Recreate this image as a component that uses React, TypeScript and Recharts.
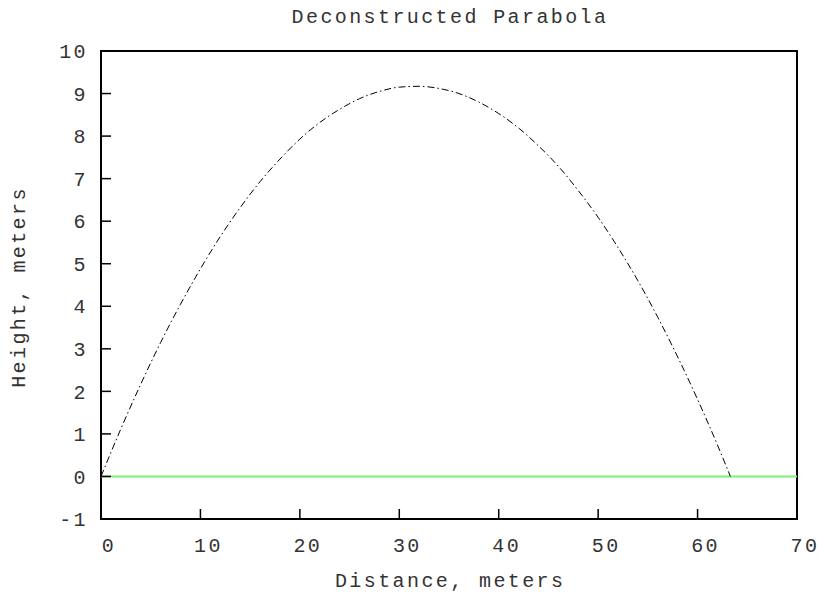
import React from 'react';
import { LineChart, Line, XAxis, YAxis, ReferenceArea, Label } from 'recharts';

const distances = [0, 2, 4, 6, 8, 10, 12, 14, 16, 18, 20, 22, 24, 26, 28, 30, 32, 34, 36, 38, 40, 42, 44, 46, 48, 50, 52, 54, 56, 58, 60, 62, 63.3];
const heights = [0, 1.12, 2.17, 3.15, 4.05, 4.88, 5.64, 6.32, 6.93, 7.46, 7.93, 8.32, 8.63, 8.88, 9.05, 9.15, 9.17, 9.12, 9.0, 8.8, 8.53, 8.19, 7.77, 7.29, 6.72, 6.09, 5.38, 4.6, 3.74, 2.81, 1.81, 0.74, 0];
const groundX = [0, 70];
const groundY = [0, 0];
const xTicks = [0, 10, 20, 30, 40, 50, 60, 70];
const yTicks = [-1, 0, 1, 2, 3, 4, 5, 6, 7, 8, 9, 10];

const parabola = distances.map((d, i) => ({ x: d, y: heights[i] }));
const ground = groundX.map((d, i) => ({ x: d, y: groundY[i] }));

const FONT = '"Liberation Mono", "DejaVu Sans Mono", monospace';
const FS = 20;
const LS = 2.4;
const TXT = '#333';

const XTick = (props: any) => {
  const { x, y, payload } = props;
  return (
    <text x={x + 8} y={y + 13} textAnchor="middle" fontFamily={FONT} fontSize={FS} letterSpacing={LS} fill={TXT}>
      {payload.value}
    </text>
  );
};

const YTick = (props: any) => {
  const { x, y, payload } = props;
  return (
    <text x={x} y={y} dy="0.36em" textAnchor="end" fontFamily={FONT} fontSize={FS} letterSpacing={LS} fill={TXT}>
      {payload.value}
    </text>
  );
};

export default function App() {
  return (
    <div style={{ position: 'absolute', left: 0, top: 0, width: 818, height: 594, background: '#fff' }}>
      <svg width={818} height={40} style={{ position: 'absolute', left: 0, top: 0 }}>
        <text x={450} y={23} textAnchor="middle" fontFamily={FONT} fontSize={FS} letterSpacing={LS} fill={TXT}>
          Deconstructed Parabola
        </text>
      </svg>
      <div style={{ position: 'absolute', left: 0, top: 0 }}>
        <LineChart width={818} height={594} margin={{ top: 51, right: 21, bottom: 5, left: 0 }}>
          <XAxis
            type="number"
            dataKey="x"
            domain={[0, 70]}
            ticks={xTicks}
            allowDataOverflow
            height={70}
            axisLine={false}
            tickSize={-10}
            tickMargin={30}
            tickLine={{ stroke: '#000', strokeWidth: 1.5 }}
            tick={XTick}
          >
            <Label
              content={(p: any) => {
                const vb = p.viewBox;
                return (
                  <text x={vb.x + vb.width / 2 + 1.2} y={vb.y + 68} textAnchor="middle" fontFamily={FONT} fontSize={FS} letterSpacing={LS} fill={TXT}>
                    Distance, meters
                  </text>
                );
              }}
            />
          </XAxis>
          <YAxis
            type="number"
            dataKey="y"
            domain={[-1, 10]}
            ticks={yTicks}
            allowDataOverflow
            width={101}
            axisLine={false}
            tickSize={-10}
            tickMargin={23}
            tickLine={{ stroke: '#000', strokeWidth: 1.5 }}
            tick={YTick}
          >
            <Label
              content={(p: any) => {
                const vb = p.viewBox;
                const cx = vb.x + 18;
                const cy = vb.y + vb.height / 2 + 2;
                return (
                  <text x={cx} y={cy} dy="0.36em" transform={`rotate(-90 ${cx} ${cy})`} textAnchor="middle" fontFamily={FONT} fontSize={FS} letterSpacing={LS} fill={TXT}>
                    Height, meters
                  </text>
                );
              }}
            />
          </YAxis>
          <Line
            data={ground}
            dataKey="y"
            type="linear"
            stroke="#7ef07e"
            strokeWidth={2}
            dot={false}
            activeDot={false}
            isAnimationActive={false}
          />
          <Line
            data={parabola}
            dataKey="y"
            type="monotone"
            stroke="#000"
            strokeWidth={1}
            strokeDasharray="7 3 1.5 3"
            dot={false}
            activeDot={false}
            isAnimationActive={false}
          />
          <ReferenceArea x1={0} x2={70} y1={-1} y2={10} fill="none" fillOpacity={0} stroke="#000" strokeWidth={2} />
        </LineChart>
      </div>
    </div>
  );
}
